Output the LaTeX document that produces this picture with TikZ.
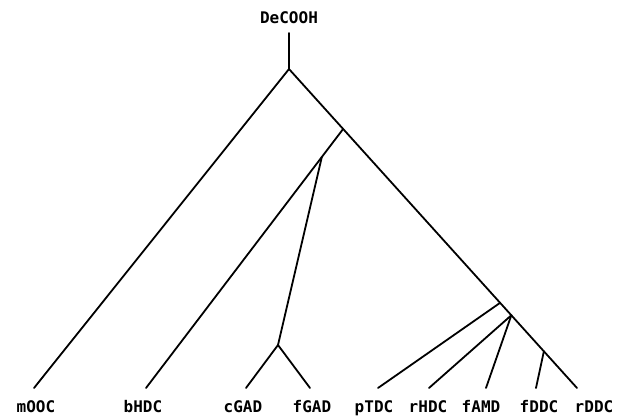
\documentclass[tikz,border=0pt]{standalone}
\usepackage{fontspec}
\usetikzlibrary{calc}
\newfontfamily\labfont{DejaVu Sans Mono}
\tikzset{
  lab/.style={font=\labfont\bfseries\fontsize{16}{18}\selectfont, inner sep=0pt, anchor=base},
  br/.style={line width=1.8pt, line cap=round}
}
\begin{document}
\begin{tikzpicture}[x=1pt,y=-1pt]
\useasboundingbox (0,0) rectangle (625,416);
% labels
\node[lab] (top) at (289,23) {DeCOOH};
\node[lab] (mOOC) at (36,412) {mOOC};
\node[lab] (bHDC) at (143,412) {bHDC};
\node[lab] (cGAD) at (243,412) {cGAD};
\node[lab] (fGAD) at (312,412) {fGAD};
\node[lab] (pTDC) at (374,412) {pTDC};
\node[lab] (rHDC) at (428,412) {rHDC};
\node[lab] (fAMD) at (481,412) {fAMD};
\node[lab] (fDDC) at (539,412) {fDDC};
\node[lab] (rDDC) at (594,412) {rDDC};
% internal points
\coordinate (T) at (289,33);
\coordinate (R) at (289,69);
\coordinate (eM) at (34,388);
\coordinate (eR) at (577,388);
\coordinate (A) at ($(R)!0.188!(eR)$);
\coordinate (B) at ($(R)!0.733!(eR)$);
\coordinate (C) at ($(R)!0.772!(eR)$);
\coordinate (D) at ($(R)!0.885!(eR)$);
\coordinate (eB) at (146,388);
\coordinate (P) at ($(A)!0.108!(eB)$);
\coordinate (G) at (278,345);
\coordinate (eCG) at (246,388);
\coordinate (eFG) at (310,388);
\coordinate (eP) at (378,388);
\coordinate (eRH) at (429,388);
\coordinate (eFA) at (486,388);
\coordinate (eFD) at (536,388);
% branches
\draw[br] (T) -- (R);
\draw[br] (R) -- (eM);
\draw[br] (R) -- (eR);
\draw[br] (A) -- (eB);
\draw[br] (P) -- (G);
\draw[br] (G) -- (eCG);
\draw[br] (G) -- (eFG);
\draw[br] (B) -- (eP);
\draw[br] (C) -- (eRH);
\draw[br] (C) -- (eFA);
\draw[br] (D) -- (eFD);
\end{tikzpicture}
\end{document}
